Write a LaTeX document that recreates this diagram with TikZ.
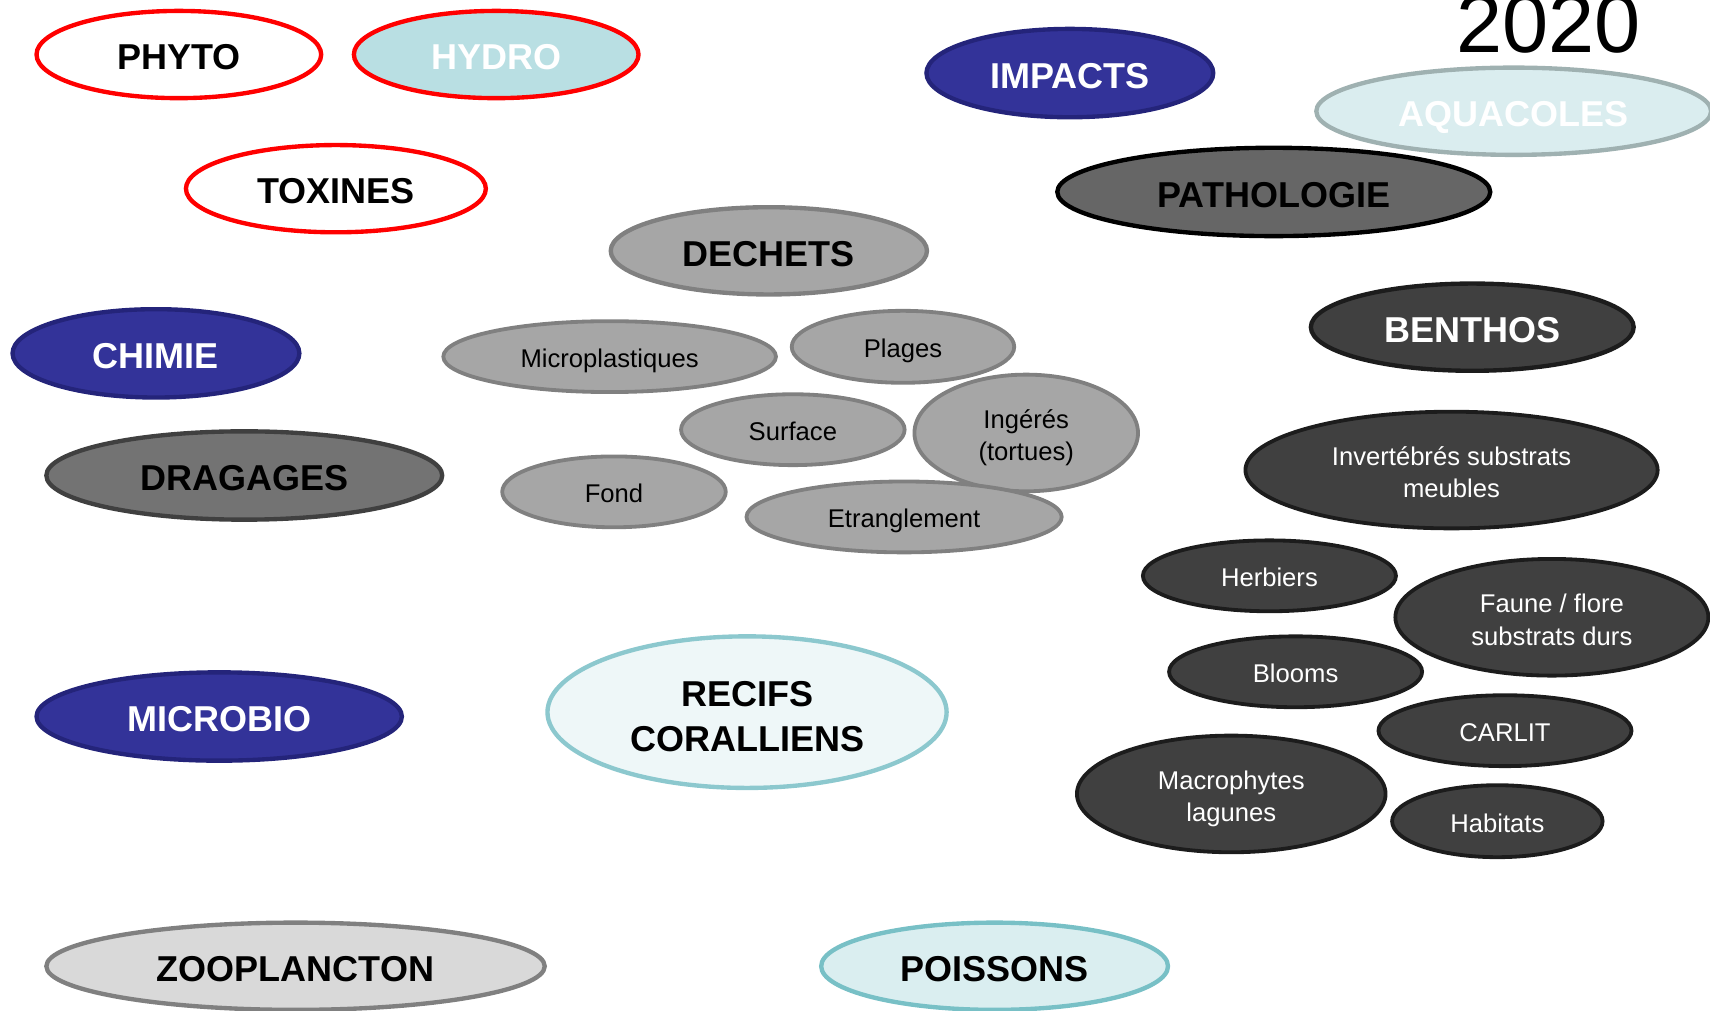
\documentclass[tikz,border=0pt]{standalone}
\usepackage{fontspec}
\setmainfont{Liberation Sans}
\usetikzlibrary{shapes.geometric}
\definecolor{navyfill}{HTML}{333399}
\definecolor{navydraw}{HTML}{24247A}
\definecolor{hydrofill}{HTML}{B9DFE3}
\definecolor{aquafill}{HTML}{DAEDEF}
\definecolor{aquadraw}{HTML}{9FB1B1}
\definecolor{pathofill}{HTML}{666666}
\definecolor{wastefill}{HTML}{A6A6A6}
\definecolor{wastedraw}{HTML}{808080}
\definecolor{benthfill}{HTML}{404040}
\definecolor{benthdraw}{HTML}{1C1C1C}
\definecolor{dragfill}{HTML}{737373}
\definecolor{dragdraw}{HTML}{404040}
\definecolor{reeffill}{HTML}{EEF7F8}
\definecolor{reefdraw}{HTML}{8CC8CE}
\definecolor{zoofill}{HTML}{D9D9D9}
\definecolor{fishfill}{HTML}{DAEEF0}
\definecolor{fishdraw}{HTML}{78C0C6}
\begin{document}
\begin{tikzpicture}[x=1pt,y=-1pt,
  bigoval/.style={ellipse,inner sep=0pt,line width=4pt,align=center,
    text height=33pt,text depth=5pt,font=\bfseries\fontsize{33}{41}\selectfont},
  smalloval/.style={ellipse,inner sep=0pt,line width=3.5pt,align=center,
    text height=23.5pt,text depth=3.5pt,font=\fontsize{23.5}{29.5}\selectfont},
  twolines/.style={text height=#1,text depth=3pt},
  redoval/.style={bigoval,draw=red,fill=white},
  blueoval/.style={bigoval,draw=navydraw,fill=navyfill,text=white},
  wasteoval/.style={smalloval,draw=wastedraw,fill=wastefill},
  benthoval/.style={smalloval,draw=benthdraw,fill=benthfill,text=white}]
\useasboundingbox (0,0) rectangle (1568,927);
\node [redoval,minimum width=261,minimum height=80] (phyto) at (164,50) {PHYTO};
\node [redoval,fill=hydrofill,text=white,minimum width=261,minimum height=80] (hydro) at (455,50) {HYDRO};
\node [redoval,minimum width=275,minimum height=80] (toxines) at (308,173) {TOXINES};
\node [blueoval,minimum width=263,minimum height=81] (impacts) at (981,67) {IMPACTS};
\node [anchor=base,font=\fontsize{76}{80}\selectfont] (year) at (1420,48) {2020};
\node [bigoval,draw=aquadraw,fill=aquafill,text=white,minimum width=362,minimum height=80] (aquacoles) at (1388,102) {AQUACOLES};
\node [bigoval,draw=black,fill=pathofill,minimum width=397,minimum height=81] (patho) at (1168,176) {PATHOLOGIE};
\node [bigoval,draw=wastedraw,fill=wastefill,minimum width=290,minimum height=80] (dechets) at (705,230) {DECHETS};
\node [bigoval,draw=benthdraw,fill=benthfill,text=white,minimum width=296,minimum height=80] (benthos) at (1350,300) {BENTHOS};
\node [blueoval,minimum width=263,minimum height=81] (chimie) at (143,324) {CHIMIE};
\node [bigoval,draw=dragdraw,fill=dragfill,minimum width=363,minimum height=81] (dragages) at (224,436) {DRAGAGES};
\node [blueoval,minimum width=335,minimum height=81] (microbio) at (201,657) {MICROBIO};
\node [bigoval,twolines=75pt,draw=reefdraw,fill=reeffill,minimum width=366,minimum height=139] (recifs) at (685,653) {RECIFS\\CORALLIENS};
\node [bigoval,draw=wastedraw,fill=zoofill,minimum width=457,minimum height=80] (zoo) at (271,886) {ZOOPLANCTON};
\node [bigoval,draw=fishdraw,fill=fishfill,minimum width=318,minimum height=80] (poissons) at (912,886) {POISSONS};
\node [wasteoval,minimum width=305,minimum height=65] (micro) at (559,327) {Microplastiques};
\node [wasteoval,minimum width=204,minimum height=66] (plages) at (828,318) {Plages};
\node [wasteoval,minimum width=205,minimum height=65] (surface) at (727,394) {Surface};
\node [wasteoval,twolines=54pt,minimum width=205,minimum height=107] (ingeres) at (941,397) {Ingérés\\(tortues)};
\node [wasteoval,minimum width=205,minimum height=65] (fond) at (563,451) {Fond};
\node [wasteoval,minimum width=289,minimum height=65] (etrangl) at (829,474) {Etranglement};
\node [benthoval,twolines=54pt,minimum width=378,minimum height=107] (invert) at (1331,431) {Invertébrés substrats\\meubles};
\node [benthoval,minimum width=232,minimum height=65] (herbiers) at (1164,528) {Herbiers};
\node [benthoval,twolines=54pt,minimum width=287,minimum height=107] (faune) at (1423,566) {Faune / flore\\substrats durs};
\node [benthoval,minimum width=232,minimum height=65] (blooms) at (1188,616) {Blooms};
\node [benthoval,minimum width=232,minimum height=65] (carlit) at (1380,670) {CARLIT};
\node [benthoval,twolines=54pt,minimum width=283,minimum height=107] (macro) at (1129,728) {Macrophytes\\lagunes};
\node [benthoval,minimum width=193,minimum height=66] (habitats) at (1373,753) {Habitats};
\end{tikzpicture}
\end{document}
